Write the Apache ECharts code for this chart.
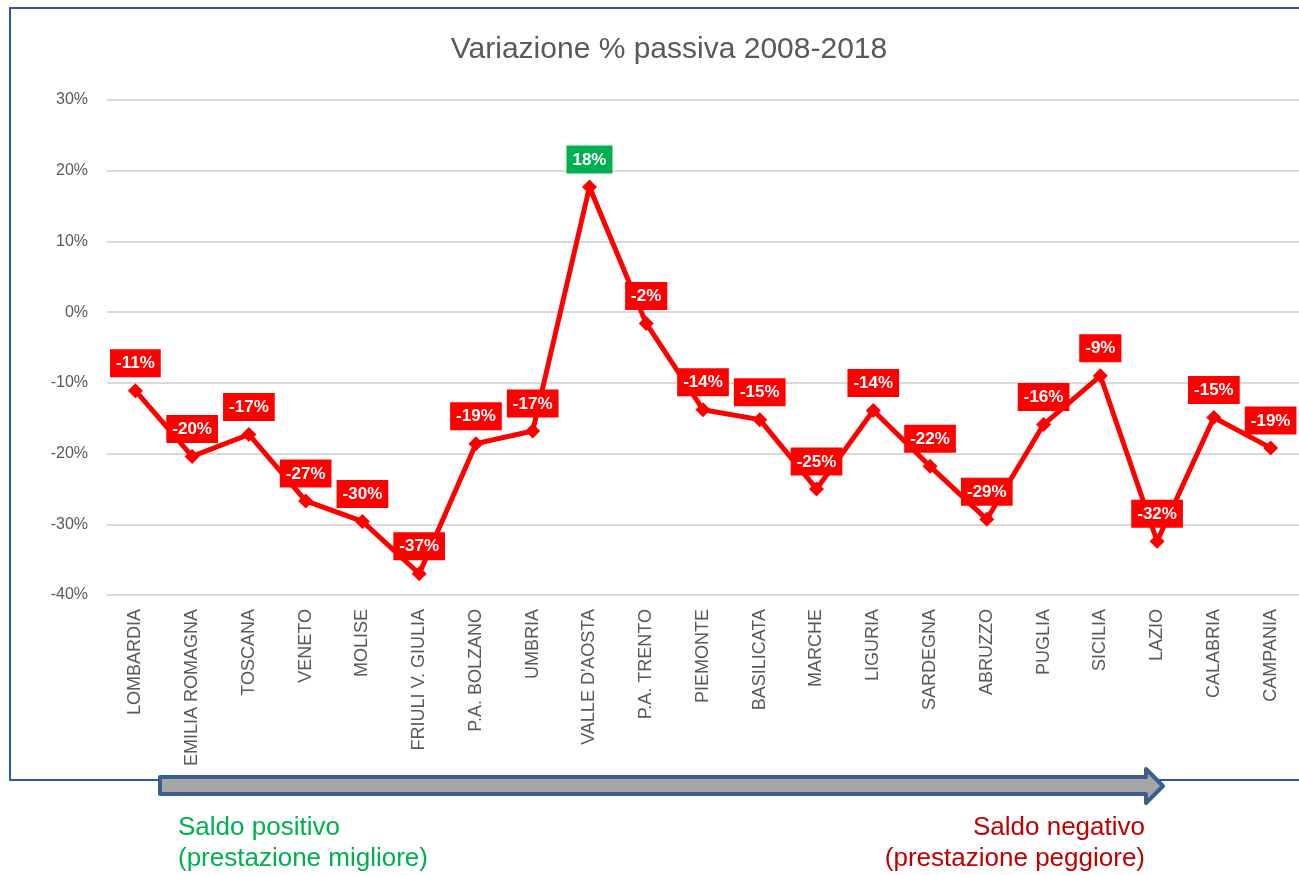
<!DOCTYPE html>
<html>
<head>
<meta charset="utf-8">
<script src="https://cdn.jsdelivr.net/npm/echarts@6/dist/echarts.min.js"></script>
<style>
html,body{margin:0;padding:0;background:#fff;}
#c{width:1299px;height:875px;}
</style>
</head>
<body>
<div id="c"></div>
<script>
var categories = ["LOMBARDIA","EMILIA ROMAGNA","TOSCANA","VENETO","MOLISE","FRIULI V. GIULIA","P.A. BOLZANO","UMBRIA","VALLE D'AOSTA","P.A. TRENTO","PIEMONTE","BASILICATA","MARCHE","LIGURIA","SARDEGNA","ABRUZZO","PUGLIA","SICILIA","LAZIO","CALABRIA","CAMPANIA"];
var values = [-11.1,-20.4,-17.3,-26.7,-29.6,-37.0,-18.6,-16.8,17.7,-1.6,-13.8,-15.2,-25.0,-13.9,-21.8,-29.3,-15.9,-9.0,-32.4,-14.9,-19.2];
var yTicks = {min:-40, max:30, interval:10};
var titleText = "Variazione % passiva 2008-2018";
var leftNote = ["Saldo positivo","(prestazione migliore)"];
var rightNote = ["Saldo negativo","(prestazione peggiore)"];

var chart = echarts.init(document.getElementById('c'));
var seriesData = values.map(function(v){
  var item = {value:v};
  if (v > 0) item.label = {backgroundColor:'#00B050'};
  return item;
});
chart.setOption({
  animation:false,
  backgroundColor:'#ffffff',
  title:{text:titleText,left:664,top:30,textAlign:'center',
    textStyle:{fontFamily:'Liberation Sans',fontSize:30,fontWeight:'normal',color:'#595959'}},
  grid:{left:107,right:-6,top:100,bottom:280,containLabel:false},
  xAxis:{type:'category',data:categories,boundaryGap:true,
    axisLine:{show:false},axisTick:{show:false},
    axisLabel:{rotate:90,interval:0,margin:14,color:'#595959',fontFamily:'Liberation Sans',fontSize:18}},
  yAxis:{type:'value',min:yTicks.min,max:yTicks.max,interval:yTicks.interval,
    axisLine:{show:false},axisTick:{show:false},
    splitLine:{lineStyle:{color:'#D9D9D9',width:2}},
    axisLabel:{formatter:'{value}%',margin:19,color:'#595959',fontFamily:'Liberation Sans',fontSize:16}},
  series:[{type:'line',data:seriesData,
    lineStyle:{color:'#FF0000',width:5},
    itemStyle:{color:'#FF0000'},
    symbol:'diamond',symbolSize:15,
    label:{show:true,position:'top',distance:6,
      formatter:function(p){return Math.round(p.value)+'%';},
      backgroundColor:'#FF0000',color:'#ffffff',fontWeight:'bold',
      fontFamily:'Liberation Sans',fontSize:17,padding:[6,6,5,6]}}],
  graphic:[
    {type:'rect',z:1,shape:{x:10,y:8,width:1320,height:772},
      style:{fill:null,stroke:'#2A55A8',lineWidth:2}},
    {type:'polygon',z:10,shape:{points:[[160,777],[1146,777],[1146,769],[1163,786],[1146,803],[1146,794],[160,794]]},
      style:{fill:'#A6A6A6',stroke:'#3B5F8C',lineWidth:4,lineJoin:'round'}},
    {type:'text',z:10,style:{text:leftNote[0],x:178,y:828,fill:'#00B050',font:'26px "Liberation Sans"',textAlign:'left',textVerticalAlign:'middle'}},
    {type:'text',z:10,style:{text:leftNote[1],x:178,y:859,fill:'#00B050',font:'26px "Liberation Sans"',textAlign:'left',textVerticalAlign:'middle'}},
    {type:'text',z:10,style:{text:rightNote[0],x:1145,y:828,fill:'#C00000',font:'26px "Liberation Sans"',textAlign:'right',textVerticalAlign:'middle'}},
    {type:'text',z:10,style:{text:rightNote[1],x:1145,y:859,fill:'#C00000',font:'26px "Liberation Sans"',textAlign:'right',textVerticalAlign:'middle'}}
  ]
});
</script>
</body>
</html>
